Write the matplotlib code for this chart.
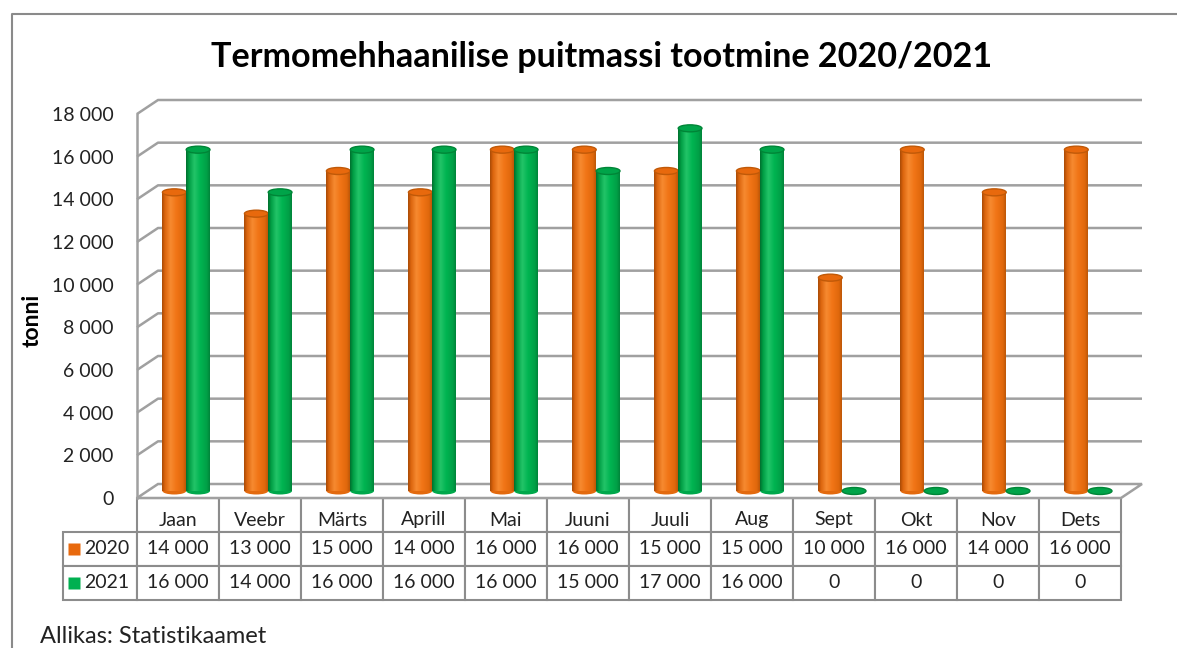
import numpy as np
import matplotlib
matplotlib.use("Agg")
import matplotlib.pyplot as plt
from matplotlib.colors import LinearSegmentedColormap
from matplotlib.patches import Ellipse, Polygon
from matplotlib.lines import Line2D
from matplotlib.table import Table
from matplotlib.transforms import Affine2D

months = ["Jaan", "Veebr", "Märts", "Aprill", "Mai", "Juuni",
          "Juuli", "Aug", "Sept", "Okt", "Nov", "Dets"]
years = ["2020", "2021"]
prod_2020 = [14000, 13000, 15000, 14000, 16000, 16000, 15000, 15000, 10000, 16000, 14000, 16000]
prod_2021 = [16000, 14000, 16000, 16000, 16000, 15000, 17000, 16000, 0, 0, 0, 0]
yticks = list(range(0, 18001, 2000))

title = "Termomehhaanilise puitmassi tootmine 2020/2021"
ylabel = "tonni"
source = "Allikas: Statistikaamet"

plt.rcParams['font.family'] = ['Lato', 'DejaVu Sans']

W, H = 1177, 648
fig = plt.figure(figsize=(W / 100, H / 100), dpi=100)


def fx(px):
    return px / W


def fy(py):
    return 1 - py / H


def fmt(v):
    return f"{v:,}".replace(",", " ")


# front face of the 3d box: 137..1121 px wide, 114..498 px tall
AX_W, AX_H = 984, 384
ax = fig.add_axes([fx(137), fy(498), fx(1121) - fx(137), fy(114) - fy(498)])
ax.set_xlim(-0.5, 11.5)
ax.set_ylim(0, 18000)
ax.set_facecolor("none")
for s in ax.spines.values():
    s.set_visible(False)

# depth of the box, in data units (21 px right, 14 px up)
dx = 21 / 82
dy = 14 / AX_H * 18000
grid_c = "#a0a0a0"

# floor
floor = Polygon([(-0.5, 0), (11.5, 0), (11.5 + dx, dy), (-0.5 + dx, dy)], closed=True,
                facecolor="white", edgecolor=grid_c, lw=1.8, clip_on=False, zorder=1)
ax.add_patch(floor)
for v in yticks[1:]:
    ax.plot([-0.5, -0.5 + dx, 11.5 + dx], [v, v + dy, v + dy], color=grid_c, lw=1.8,
            clip_on=False, zorder=1, solid_capstyle="butt")
ax.plot([-0.5, -0.5], [0, 18000], color=grid_c, lw=1.8, clip_on=False, zorder=1)

# cylinders
orange_cm = LinearSegmentedColormap.from_list("o", [
    (0.0, "#a94b06"), (0.12, "#dc650e"), (0.35, "#f68a30"), (0.6, "#f17516"),
    (0.88, "#e0680c"), (1.0, "#bd5708")])
green_cm = LinearSegmentedColormap.from_list("g", [
    (0.0, "#00702e"), (0.12, "#009d44"), (0.35, "#22c468"), (0.6, "#00b451"),
    (0.88, "#009f46"), (1.0, "#00843a")])
series = [
    (prod_2020, orange_cm, "#e8690d", "#c05908", "#e36a0e"),
    (prod_2021, green_cm, "#00a449", "#008537", "#00a84b"),
]
grad = np.linspace(0, 1, 64).reshape(1, -1)
w = 0.29
pair_center = 0.1
eh = 7 / AX_H * 18000

for k, (vals, cm, top_face, top_edge, base_c) in enumerate(series):
    for i, v in enumerate(vals):
        xc = i + pair_center + (k - 0.5) * w
        base = dy / 2
        top = v + dy / 2
        if v > 0:
            ax.add_patch(Ellipse((xc, base), w, eh, facecolor=base_c, edgecolor="none",
                                 zorder=3 + k))
            ax.imshow(grad, extent=(xc - w / 2, xc + w / 2, base, top), cmap=cm,
                      aspect="auto", interpolation="bilinear", zorder=3 + k)
        ax.add_patch(Ellipse((xc, top), w, eh, facecolor=top_face, edgecolor=top_edge,
                             lw=1.0, zorder=3.5 + k))

ax.set_xlim(-0.5, 11.5)
ax.set_ylim(0, 18000)
ax.set_xticks([])
ax.set_yticks(yticks)
ax.set_yticklabels([fmt(v) for v in yticks])
ax.tick_params(axis="y", length=0, pad=17, labelsize=14, colors="#222222")

# data table under the chart (sizes in axes fractions)
cw, ch, lw_ = 1 / 12, 34 / AX_H, 74 / AX_W
tab = Table(ax, bbox=[0, -3 * ch, 1, 3 * ch])
for j, m in enumerate(months):
    c = tab.add_cell(0, j, cw, ch, text=m, loc="center")
    c.get_text().set_transform(Affine2D().translate(0, -5))
for r, (yr, vals) in enumerate(zip(years, [prod_2020, prod_2021])):
    tab.add_cell(r + 1, -1, lw_, ch, text=yr, loc="right")
    for j, v in enumerate(vals):
        tab.add_cell(r + 1, j, cw, ch, text=fmt(v), loc="center")
tab.auto_set_font_size(False)
tab.set_fontsize(14)
for cell in tab.get_celld().values():
    cell.set_edgecolor("#8c8c8c")
    cell.set_linewidth(1.5)
    cell.get_text().set_color("#222222")
ax.add_table(tab)

for k, c in enumerate(["#e8690d", "#00b050"]):
    yc = -(549 + 34 * k - 498) / AX_H
    ax.plot([(74 - 137) / AX_W], [yc], marker="s", ms=8.6, color=c, mec="none",
            transform=ax.transAxes, clip_on=False, zorder=10)

fig.text(fx(602), fy(67), title, ha="center", va="baseline", fontsize=24.6, fontweight="bold",
         color="black")
fig.text(fx(32), fy(320), ylabel, ha="center", va="center", rotation=90, fontsize=16.5,
         fontweight="bold")
fig.text(fx(40), fy(643), source, ha="left", va="baseline", fontsize=17, color="#222222")

fig.add_artist(Line2D([fx(12), fx(12), 1], [0, fy(14), fy(14)], color="#8a8a8a", lw=1.5))

fig.savefig("out.png", dpi=100)
